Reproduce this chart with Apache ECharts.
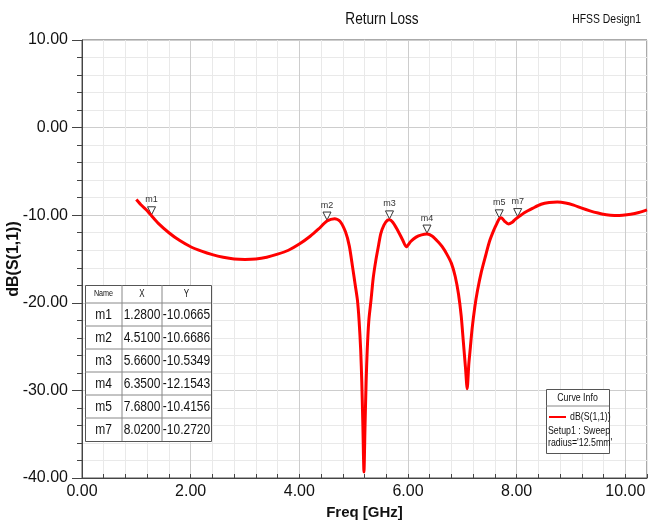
<!DOCTYPE html>
<html><head><meta charset="utf-8">
<script src="https://cdn.jsdelivr.net/npm/echarts@6/dist/echarts.min.js"></script>
<style>html,body{margin:0;padding:0;background:#fff}#c{width:657px;height:527px}</style>
</head><body><div id="c"></div>
<script>
const freq = [1.00,1.10,1.20,1.28,1.40,1.60,1.80,2.00,2.20,2.40,2.60,2.80,3.00,3.20,3.40,3.60,3.80,4.00,4.20,4.35,4.51,4.65,4.75,4.85,4.92,4.98,5.03,5.07,5.10,5.13,5.15,5.17,5.19,5.21,5.23,5.25,5.28,5.32,5.36,5.41,5.46,5.50,5.56,5.62,5.66,5.72,5.80,5.90,5.97,6.05,6.15,6.25,6.35,6.45,6.55,6.63,6.72,6.80,6.87,6.93,6.98,7.02,7.06,7.09,7.12,7.15,7.18,7.23,7.28,7.35,7.43,7.50,7.58,7.64,7.68,7.72,7.78,7.85,7.92,7.97,8.02,8.15,8.30,8.45,8.60,8.75,8.90,9.05,9.20,9.35,9.50,9.65,9.80,9.95,10.10,10.25,10.40];
const s11 = [-8.2,-8.9,-9.5,-10.07,-10.9,-12.0,-12.9,-13.6,-14.1,-14.5,-14.8,-15.0,-15.05,-15.0,-14.8,-14.45,-14.0,-13.3,-12.4,-11.6,-10.67,-10.4,-10.7,-11.9,-13.5,-15.9,-18.0,-19.7,-22.0,-25.4,-29.0,-34.0,-39.3,-34.0,-29.0,-25.4,-22.0,-19.7,-17.2,-15.1,-13.4,-12.1,-11.1,-10.6,-10.53,-10.8,-11.6,-12.8,-13.6,-13.0,-12.5,-12.25,-12.15,-12.4,-13.0,-13.6,-14.5,-15.5,-17.0,-19.0,-21.5,-24.5,-27.5,-29.8,-27.0,-25.0,-23.0,-20.5,-18.6,-16.5,-14.6,-13.0,-11.7,-10.9,-10.42,-10.3,-10.7,-11.0,-10.8,-10.5,-10.27,-9.7,-9.2,-8.75,-8.55,-8.5,-8.6,-8.85,-9.2,-9.5,-9.75,-9.95,-10.02,-10.0,-9.9,-9.7,-9.4];
const markerNames = ['m1','m2','m3','m4','m5','m7'];
const markerX = [1.28,4.51,5.66,6.35,7.68,8.02];
const markerY = [-10.0665,-10.6686,-10.5349,-12.1543,-10.4156,-10.2720];
const tableHeader = ['Name','X','Y'];
const legendLines = ['dB(S(1,1))','Setup1 : Sweep',"radius='12.5mm'"];

const FN = "'Liberation Sans',Arial,sans-serif";
const NX = 0.8; // horizontal squeeze to mimic a narrow face
const chart = echarts.init(document.getElementById('c'));

function txt(x,y,text,size,align,extra){
  return Object.assign({type:'text',x:x,y:y,scaleX:NX,style:{text:text,font:size+'px '+FN,fill:'#111',align:align,verticalAlign:'middle'},z:12},extra||{});
}
// marker table
const tL = 85, tT = 285, colW = [37,40,49], hH = 18, rH = 23;
const tW = colW[0]+colW[1]+colW[2], tH = hH + rH*markerNames.length;
const g = [];
g.push({type:'rect',left:tL,top:tT,shape:{width:tW,height:tH},style:{fill:'#fff',stroke:'#555',lineWidth:1},z:10});
let cx = tL;
for (let c=0;c<3;c++){
  if(c>0) g.push({type:'line',shape:{x1:cx,y1:tT,x2:cx,y2:tT+tH},style:{stroke:'#888',lineWidth:1},z:11});
  g.push(txt(cx+colW[c]/2,tT+hH/2,tableHeader[c],c===0?9:10,'center'));
  cx += colW[c];
}
for (let r=0;r<markerNames.length;r++){
  const y0 = tT+hH+r*rH;
  g.push({type:'line',shape:{x1:tL,y1:y0,x2:tL+tW,y2:y0},style:{stroke:'#888',lineWidth:1},z:11});
  const vals = [markerNames[r], markerX[r].toFixed(4), markerY[r].toFixed(4)];
  let xx = tL;
  for (let c=0;c<3;c++){
    g.push(txt(xx+colW[c]/2,y0+rH/2,vals[c],15,'center'));
    xx += colW[c];
  }
}
// curve info box
const lL = 546, lT = 389, lW = 63, lH = 64;
g.push({type:'rect',left:lL,top:lT,shape:{width:lW,height:lH},style:{fill:'#fff',stroke:'#555',lineWidth:1},z:10});
g.push({type:'line',shape:{x1:lL,y1:lT+17,x2:lL+lW,y2:lT+17},style:{stroke:'#888',lineWidth:1},z:11});
g.push(txt(lL+lW/2,lT+9,'Curve Info',11,'center'));
g.push({type:'line',shape:{x1:lL+3,y1:lT+28,x2:lL+20,y2:lT+28},style:{stroke:'#ff0000',lineWidth:2},z:12});
g.push(txt(lL+24,lT+28,legendLines[0],11,'left'));
g.push(txt(lL+2,lT+42,legendLines[1],11,'left'));
g.push(txt(lL+2,lT+54,legendLines[2],11,'left'));
// titles
g.push(txt(382,19,'Return Loss',17,'center',{z:1}));
g.push(txt(641,19,'HFSS Design1',13,'right',{z:1}));

const major = '#cdcdcd', minor = '#e9e9e9';
chart.setOption({
  animation:false,
  backgroundColor:'#fff',
  grid:{left:82,top:40,right:10,bottom:49,show:true,borderColor:'#555',borderWidth:1,containLabel:false,outerBoundsMode:'none'},
  xAxis:{type:'value',min:0,max:10.4,interval:0.4,
    name:'Freq [GHz]',nameLocation:'middle',nameGap:27,nameMoveOverlap:false,
    nameTextStyle:{fontFamily:FN,fontSize:15,fontWeight:'bold',color:'#111'},
    axisLine:{show:true,onZero:false,lineStyle:{color:'#444'}},
    axisTick:{show:true,inside:true,length:4,lineStyle:{color:'#444'}},
    axisLabel:{fontFamily:FN,fontSize:16,color:'#111',margin:6,
      formatter:v=>{const k=v/2; return Math.abs(k-Math.round(k))<1e-6 ? v.toFixed(2) : '';}},
    splitLine:{show:true,lineStyle:{color:[major,minor,minor,minor,minor],width:1}}
  },
  yAxis:{type:'value',min:-40,max:10,interval:10,
    name:'dB(S(1,1))',nameLocation:'middle',nameGap:60,nameMoveOverlap:false,
    nameTextStyle:{fontFamily:FN,fontSize:16,fontWeight:'bold',color:'#111'},
    axisLine:{show:true,lineStyle:{color:'#444'}},
    axisTick:{show:true,length:10,lineStyle:{color:'#444'}},
    minorTick:{show:true,splitNumber:5,length:5,lineStyle:{color:'#444'}},
    axisLabel:{fontFamily:FN,fontSize:16,color:'#111',margin:14,formatter:v=>v.toFixed(2)},
    splitLine:{show:true,lineStyle:{color:major}},
    minorSplitLine:{show:true,lineStyle:{color:minor}}
  },
  series:[{type:'line',data:freq.map((f,i)=>[f,s11[i]]),showSymbol:false,smooth:0.25,
    lineStyle:{color:'#ff0000',width:3},itemStyle:{color:'#ff0000'},z:5,
    markPoint:{symbol:'triangle',symbolRotate:180,symbolSize:[8,8],symbolOffset:[0,-5],
      itemStyle:{color:'#fff',borderColor:'#333',borderWidth:1},
      label:{show:true,position:'top',distance:2,formatter:'{b}',fontFamily:FN,fontSize:9,color:'#333'},
      data:markerNames.map((n,i)=>({name:n,coord:[markerX[i],markerY[i]]}))}
  }],
  graphic:g
});
</script></body></html>
